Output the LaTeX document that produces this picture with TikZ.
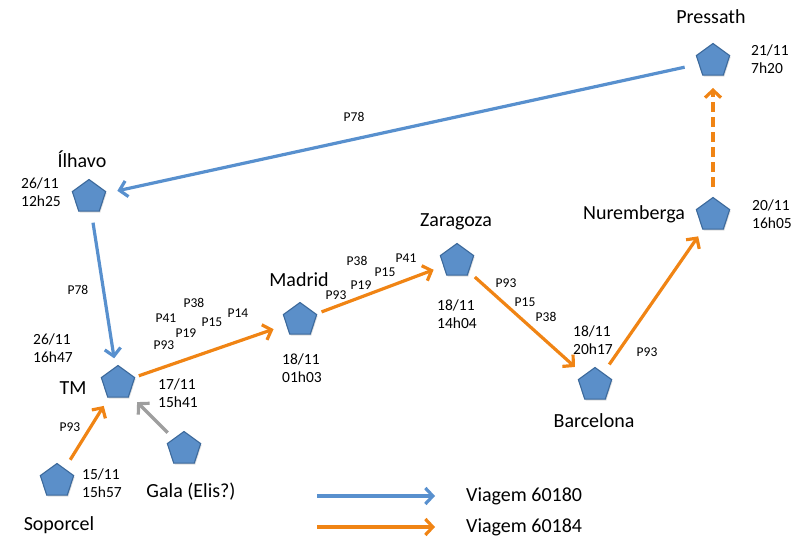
\documentclass[tikz,border=0pt]{standalone}
\usepackage{fontspec}
\setmainfont{Carlito}
\usetikzlibrary{shapes.geometric,arrows.meta,calc,shadows}
\definecolor{pentfill}{RGB}{91,143,201}
\definecolor{pentdraw}{RGB}{60,105,155}
\definecolor{tripblue}{RGB}{88,144,206}
\definecolor{triporange}{RGB}{240,132,20}
\definecolor{tripgray}{RGB}{158,158,158}

\begin{document}
\begin{tikzpicture}[x=1pt,y=-1pt,
  site/.style={regular polygon, regular polygon sides=5, minimum size=35pt,
    inner sep=0pt, fill=pentfill, draw=pentdraw, line width=1.1pt,
    drop shadow={opacity=0.25, shadow xshift=1pt, shadow yshift=-1.5pt}},
  place/.style={font=\fontsize{20}{24}\selectfont, inner sep=0pt},
  stamp/.style={font=\fontsize{15.5}{18}\selectfont, align=left, anchor=west, inner sep=0pt},
  plabel/.style={font=\fontsize{13.5}{15}\selectfont, inner sep=0pt},
  trip/.style={line width=3.2pt, -{Straight Barb[length=7.5pt,width=16pt]}},
  blueTrip/.style={trip, draw=tripblue},
  orangeTrip/.style={trip, draw=triporange},
  grayTrip/.style={trip, draw=tripgray},
]
\useasboundingbox (0,0) rectangle (802,540);

% sites
\node[site] (press) at (713,61) {};
\node[site] (nur)   at (713,215) {};
\node[site] (ilh)   at (89,197) {};
\node[site] (tm)    at (118,383) {};
\node[site] (sop)   at (57,481) {};
\node[site] (gala)  at (184,449) {};
\node[site] (mad)   at (300,320) {};
\node[site] (zar)   at (457,261) {};
\node[site] (bar)   at (595,385) {};

% place names
\node[place] (tPress) at (711,17)  {Pressath};
\node[place] (tNur)   at (634,214) {Nuremberga};
\node[place] (tIlh)   at (82,159)  {Ílhavo};
\node[place] (tTm)    at (73,388)  {TM};
\node[place] (tSop)   at (59,525)  {Soporcel};
\node[place] (tGala)  at (191,492) {Gala (Elis?)};
\node[place] (tMad)   at (299,280) {Madrid};
\node[place] (tZar)   at (456,222) {Zaragoza};
\node[place] (tBar)   at (594,421) {Barcelona};

% dates and times
\node[stamp] (dPress) at (751,59)  {21/11\\7h20};
\node[stamp] (dNur)   at (752,214) {20/11\\16h05};
\node[stamp] (dIlh)   at (21,192)  {26/11\\12h25};
\node[stamp] (dTm1)   at (33,348)  {26/11\\16h47};
\node[stamp] (dTm2)   at (158,393) {17/11\\15h41};
\node[stamp] (dSop)   at (82,483)  {15/11\\15h57};
\node[stamp] (dMad)   at (282,368) {18/11\\01h03};
\node[stamp] (dZar)   at (437,314) {18/11\\14h04};
\node[stamp] (dBar)   at (573,340) {18/11\\20h17};

% route legs
\draw[blueTrip]   ($(press)!29pt!(ilh)$) -- ($(ilh)!29pt!(press)$);
\draw[blueTrip]   ($(ilh)!26pt!(tm)$) -- ($(tm)!25pt!(ilh)$);
\draw[orangeTrip] ($(tm)!22pt!(mad)$) -- ($(mad)!28pt!(tm)$);
\draw[orangeTrip] ($(sop)!25pt!(tm)$) -- ($(tm)!27pt!(sop)$);
\draw[grayTrip]   ($(gala)!23pt!(tm)$) -- ($(tm)!27pt!(gala)$);
\draw[orangeTrip] ($(mad)!23pt!(zar)$) -- ($(zar)!25pt!(mad)$);
\draw[orangeTrip] ($(zar)!24pt!(bar)$) -- ($(bar)!27pt!(zar)$);
\draw[orangeTrip] ($(bar)!25pt!(nur)$) -- ($(nur)!26pt!(bar)$);
\draw[orangeTrip, dash pattern=on 10pt off 5pt] ($(nur)!28pt!(press)$) -- ($(press)!27pt!(nur)$);

% product codes
\node[plabel] at (354,117) {P78};
\node[plabel] at (78,290)  {P78};
\node[plabel] at (70,427)  {P93};
\node[plabel] at (194,303) {P38};
\node[plabel] at (166,318) {P41};
\node[plabel] at (212,322) {P15};
\node[plabel] at (238,313) {P14};
\node[plabel] at (186,333) {P19};
\node[plabel] at (164,345) {P93};
\node[plabel] at (357,261) {P38};
\node[plabel] at (406,258) {P41};
\node[plabel] at (385,272) {P15};
\node[plabel] at (361,285) {P19};
\node[plabel] at (336,295) {P93};
\node[plabel] at (506,283) {P93};
\node[plabel] at (525,302) {P15};
\node[plabel] at (546,317) {P38};
\node[plabel] at (647,352) {P93};

% legend
\coordinate (lgB1) at (317,496);
\coordinate (lgB2) at (435,496);
\coordinate (lgO1) at (317,527);
\coordinate (lgO2) at (435,527);
\draw[blueTrip]   (lgB1) -- (lgB2);
\draw[orangeTrip] (lgO1) -- (lgO2);
\node[place, anchor=west] (lgBt) at (466,496) {Viagem 60180};
\node[place, anchor=west] (lgOt) at (466,527) {Viagem 60184};
\end{tikzpicture}
\end{document}
